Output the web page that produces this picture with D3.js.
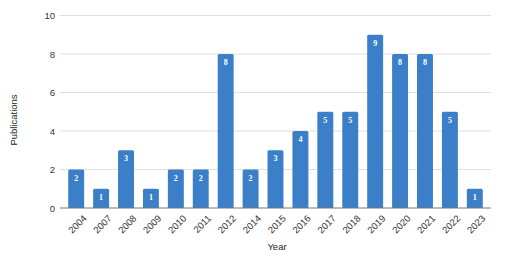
<!DOCTYPE html>
<html>
<head>
<meta charset="utf-8">
<script src="https://cdn.jsdelivr.net/npm/d3@7"></script>
<style>
  html, body { margin: 0; padding: 0; background: #fff; }
  svg { display: block; font-family: "Liberation Sans", Arial, sans-serif; }
</style>
</head>
<body>
<div id="chart"></div>
<script>
// Jahre und Anzahl der Publikationen
const years = ["2004", "2007", "2008", "2009", "2010", "2011", "2012", "2014", "2015",
  "2016", "2017", "2018", "2019", "2020", "2021", "2022", "2023"];
const counts = [2, 1, 3, 1, 2, 2, 8, 2, 3, 4, 5, 5, 9, 8, 8, 5, 1];
const yTicks = [0, 2, 4, 6, 8, 10];

const data = years.map((year, i) => ({ year, count: counts[i] }));

const width = 513;
const height = 257;
const marginTop = 15.5;
const marginRight = 22;
const marginBottom = 49;
const marginLeft = 60;

const x = d3.scaleBand()
  .domain(years)
  .range([marginLeft, width - marginRight])
  .paddingInner(0.36)
  .paddingOuter(0.33);

const y = d3.scaleLinear()
  .domain([0, 10])
  .range([height - marginBottom, marginTop]);

const svg = d3.select("#chart").append("svg")
  .attr("width", width)
  .attr("height", height)
  .attr("viewBox", [0, 0, width, height]);

// Gitterlinien
svg.append("g")
  .selectAll("line")
  .data(yTicks.filter(d => d > 0))
  .join("line")
  .attr("x1", marginLeft)
  .attr("x2", width - marginRight)
  .attr("y1", d => y(d))
  .attr("y2", d => y(d))
  .attr("stroke", "#e0e0e0")
  .attr("stroke-width", 1);

// Balken
svg.append("g")
  .attr("fill", "#3b7fc8")
  .selectAll("path")
  .data(data)
  .join("path")
  .attr("d", d => {
    const x0 = x(d.year), w = x.bandwidth();
    const y0 = y(d.count), y1 = y(0), r = 1.5;
    return `M${x0},${y1}V${y0 + r}Q${x0},${y0} ${x0 + r},${y0}H${x0 + w - r}Q${x0 + w},${y0} ${x0 + w},${y0 + r}V${y1}Z`;
  });

// Werte in den Balken
svg.append("g")
  .attr("fill", "#fff")
  .attr("font-family", "'Liberation Serif', 'DejaVu Serif', serif")
  .attr("font-weight", "bold")
  .attr("font-size", 8)
  .attr("text-anchor", "middle")
  .selectAll("text")
  .data(data)
  .join("text")
  .attr("x", d => x(d.year) + x.bandwidth() / 2)
  .attr("y", d => y(d.count) + 11)
  .text(d => d.count);

// Nulllinie
svg.append("line")
  .attr("x1", marginLeft)
  .attr("x2", width - marginRight)
  .attr("y1", y(0))
  .attr("y2", y(0))
  .attr("stroke", "#777")
  .attr("stroke-width", 1);

// Y-Achse
svg.append("g")
  .attr("transform", `translate(${marginLeft},0)`)
  .call(d3.axisLeft(y).tickValues(yTicks).tickSize(0).tickPadding(5))
  .call(g => g.select(".domain").remove())
  .call(g => g.selectAll("text")
    .attr("font-size", 9.5)
    .attr("fill", "#333"));

// X-Achse mit gedrehten Beschriftungen
svg.append("g")
  .attr("transform", `translate(0,${y(0)})`)
  .call(d3.axisBottom(x).tickSize(0).tickPadding(0))
  .call(g => g.select(".domain").remove())
  .call(g => g.selectAll("text")
    .attr("font-size", 9.5)
    .attr("fill", "#333")
    .attr("text-anchor", "end")
    .attr("dy", 0)
    .attr("transform", "translate(6,6) rotate(-45)")
    .attr("dominant-baseline", "hanging"));

// Achsentitel
svg.append("text")
  .attr("x", 277)
  .attr("y", 250)
  .attr("text-anchor", "middle")
  .attr("font-size", 9.5)
  .attr("fill", "#222")
  .text("Year");

svg.append("text")
  .attr("transform", `translate(17,120) rotate(-90)`)
  .attr("text-anchor", "middle")
  .attr("font-size", 9.5)
  .attr("fill", "#222")
  .text("Publications");
</script>
</body>
</html>
